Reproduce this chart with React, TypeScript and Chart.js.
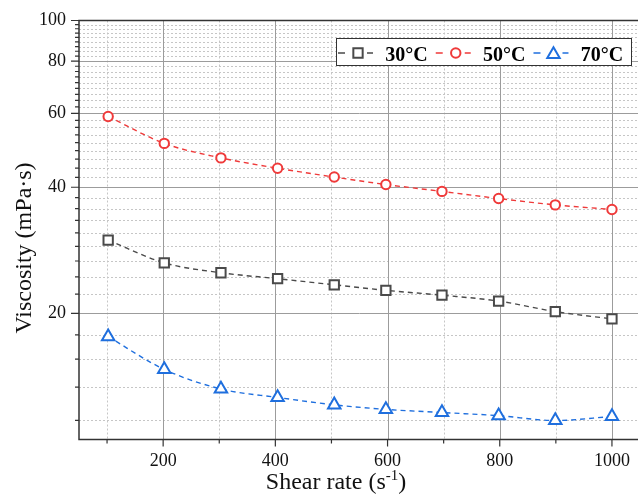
import React, { useEffect, useRef } from "react";
import { Chart, registerables } from "chart.js";

Chart.register(...registerables);

// ---- data ----
const shearRate = [102, 202, 303, 404, 505, 597, 697, 798, 899, 1000];
const visc30 = [29.9, 26.4, 25.0, 24.2, 23.4, 22.7, 22.1, 21.4, 20.2, 19.4];
const visc50 = [59.0, 50.9, 47.0, 44.4, 42.3, 40.6, 39.1, 37.6, 36.3, 35.4];
const visc70 = [17.6, 14.7, 13.2, 12.6, 12.1, 11.8, 11.6, 11.4, 11.1, 11.35];
const seriesLabels = ["30°C", "50°C", "70°C"];

const xMajorTicks = [200, 400, 600, 800, 1000];
const xMinorTicks = [100, 300, 500, 700, 900];
const yMajorTicks = [20, 40, 60, 80, 100];
const yMinorBases = [10, 20, 40, 60, 80];

const yTitle = "Viscosity (mPa·s)";
const xTitleMain = "Shear rate (s";
const xTitleSup = "-1";
const xTitleEnd = ")";

const COLORS = ["#4a4a4a", "#ef3a3a", "#1f6fde"];
const STYLES = ["rect", "circle", "triangle"];
const RADII = [6.6, 4.7, 7.2];
const SERIF = '"Liberation Serif", "Times New Roman", serif';

function yMinorTicks(): number[] {
  const out: number[] = [];
  const step = 20 / 9;
  for (const b of yMinorBases) {
    for (let k = 1; k <= 8; k++) {
      const v = b === 10 ? 20 - k * step : b + k * step;
      if (v > 10 && v < 100) out.push(v);
    }
  }
  return out;
}

function drawMarker(ctx: CanvasRenderingContext2D, style: string, x: number, y: number, r: number, color: string) {
  ctx.save();
  ctx.setLineDash([]);
  ctx.lineWidth = 2;
  ctx.strokeStyle = color;
  ctx.fillStyle = "#ffffff";
  ctx.beginPath();
  if (style === "rect") {
    const s = Math.SQRT1_2 * r;
    ctx.rect(x - s, y - s, 2 * s, 2 * s);
  } else if (style === "circle") {
    ctx.arc(x, y, r, 0, Math.PI * 2);
  } else {
    const a = (2 * Math.PI) / 3;
    ctx.moveTo(x, y - r);
    ctx.lineTo(x + Math.sin(a) * r, y - Math.cos(a) * r);
    ctx.lineTo(x + Math.sin(2 * a) * r, y - Math.cos(2 * a) * r);
    ctx.closePath();
  }
  ctx.fill();
  ctx.stroke();
  ctx.restore();
}

const framePlugin = {
  id: "originFrame",
  beforeDatasetsDraw(chart: any) {
    const { ctx, chartArea: a, scales } = chart;
    const xs = scales.x;
    const ys = scales.y;
    ctx.save();
    // minor dotted grid
    ctx.lineWidth = 1;
    ctx.strokeStyle = "#c6c6c6";
    ctx.setLineDash([2, 2]);
    ctx.beginPath();
    for (const v of yMinorTicks()) {
      const p = Math.round(ys.getPixelForValue(v)) + 0.5;
      ctx.moveTo(a.left, p);
      ctx.lineTo(a.right, p);
    }
    for (const v of xMinorTicks) {
      const p = Math.round(xs.getPixelForValue(v)) + 0.5;
      ctx.moveTo(p, a.top);
      ctx.lineTo(p, a.bottom);
    }
    ctx.stroke();
    // major solid grid
    ctx.setLineDash([]);
    ctx.strokeStyle = "#9c9c9c";
    ctx.beginPath();
    for (const v of yMajorTicks) {
      if (v >= 100) continue;
      const p = Math.round(ys.getPixelForValue(v)) + 0.5;
      ctx.moveTo(a.left, p);
      ctx.lineTo(a.right, p);
    }
    for (const v of xMajorTicks) {
      const p = Math.round(xs.getPixelForValue(v)) + 0.5;
      ctx.moveTo(p, a.top);
      ctx.lineTo(p, a.bottom);
    }
    ctx.stroke();
    ctx.restore();
  },
  afterDatasetsDraw(chart: any) {
    const { ctx, chartArea: a, scales } = chart;
    const xs = scales.x;
    const ys = scales.y;
    ctx.save();
    ctx.setLineDash([]);
    ctx.strokeStyle = "#333333";
    ctx.lineWidth = 1.5;
    ctx.strokeRect(a.left, a.top, a.right - a.left, a.bottom - a.top);
    // tick marks
    ctx.lineWidth = 1.2;
    ctx.beginPath();
    for (const v of yMajorTicks) {
      const p = ys.getPixelForValue(v);
      ctx.moveTo(a.left, p);
      ctx.lineTo(a.left - 8, p);
    }
    for (const v of yMinorTicks()) {
      const p = ys.getPixelForValue(v);
      ctx.moveTo(a.left, p);
      ctx.lineTo(a.left - 4, p);
    }
    for (const v of xMajorTicks) {
      const p = xs.getPixelForValue(v);
      ctx.moveTo(p, a.bottom);
      ctx.lineTo(p, a.bottom + 7);
    }
    for (const v of xMinorTicks) {
      const p = xs.getPixelForValue(v);
      ctx.moveTo(p, a.bottom);
      ctx.lineTo(p, a.bottom + 4);
    }
    ctx.stroke();

    // axis titles
    ctx.fillStyle = "#111111";
    ctx.font = `24px ${SERIF}`;
    ctx.textBaseline = "alphabetic";
    ctx.save();
    ctx.translate(30.5, 248);
    ctx.rotate(-Math.PI / 2);
    ctx.textAlign = "center";
    ctx.fillText(yTitle, 0, 0);
    ctx.restore();

    ctx.textAlign = "left";
    const wMain = ctx.measureText(xTitleMain).width;
    ctx.font = `15px ${SERIF}`;
    const wSup = ctx.measureText(xTitleSup).width;
    ctx.font = `24px ${SERIF}`;
    const wEnd = ctx.measureText(xTitleEnd).width;
    const total = wMain + wSup + wEnd;
    let tx = 336 - total / 2;
    const ty = 489;
    ctx.fillText(xTitleMain, tx, ty);
    tx += wMain;
    ctx.font = `15px ${SERIF}`;
    ctx.fillText(xTitleSup, tx, ty - 9);
    tx += wSup;
    ctx.font = `24px ${SERIF}`;
    ctx.fillText(xTitleEnd, tx, ty);

    // legend
    const box = { l: 336.5, t: 38.5, r: 631.5, b: 65.5 };
    ctx.fillStyle = "#ffffff";
    ctx.fillRect(box.l, box.t, box.r - box.l, box.b - box.t);
    ctx.strokeStyle = "#333333";
    ctx.lineWidth = 1;
    ctx.strokeRect(box.l, box.t, box.r - box.l, box.b - box.t);
    ctx.font = `bold 20px ${SERIF}`;
    let cx = box.l + 21.5;
    const cy = 53;
    chart.data.datasets.forEach((ds: any) => {
      ctx.strokeStyle = ds.borderColor;
      ctx.lineWidth = 1.4;
      ctx.beginPath();
      ctx.moveTo(cx - 20, cy);
      ctx.lineTo(cx - 13, cy);
      ctx.moveTo(cx + 9, cy);
      ctx.lineTo(cx + 15, cy);
      ctx.stroke();
      drawMarker(ctx, ds.pointStyle, cx, cy + (ds.pointStyle === "triangle" ? 1.5 : 0), ds.pointRadius, ds.borderColor);
      ctx.fillStyle = "#000000";
      ctx.textAlign = "left";
      const textX = cx + 27.3;
      ctx.fillText(ds.label, textX, 60.5);
      cx = textX + ctx.measureText(ds.label).width + 28;
    });
    ctx.restore();
  },
};

export default function App() {
  const canvasRef = useRef<HTMLCanvasElement | null>(null);

  useEffect(() => {
    const canvas = canvasRef.current;
    if (!canvas) return;
    const series = [visc30, visc50, visc70];
    const chart = new Chart(canvas, {
      type: "line",
      data: {
        datasets: series.map((vals, i) => ({
          label: seriesLabels[i],
          data: shearRate.map((x, j) => ({ x, y: vals[j] })),
          borderColor: COLORS[i],
          backgroundColor: "#ffffff",
          borderWidth: 1.4,
          borderDash: [5, 4],
          tension: 0.4,
          cubicInterpolationMode: "monotone",
          pointStyle: STYLES[i],
          pointRadius: RADII[i],
          pointBorderWidth: 2,
          pointBackgroundColor: "#ffffff",
          pointBorderColor: COLORS[i],
        })),
      } as any,
      options: {
        animation: false,
        responsive: false,
        devicePixelRatio: 1,
        layout: { autoPadding: false, padding: { top: 20.5, right: 0, left: 0, bottom: 0 } },
        plugins: { legend: { display: false }, tooltip: { enabled: false } },
        scales: {
          x: {
            type: "linear",
            min: 50,
            max: 1050,
            grid: { display: false, drawTicks: false },
            border: { display: false },
            ticks: {
              font: { family: SERIF, size: 18 },
              color: "#111111",
              padding: 11,
              autoSkip: false,
              maxRotation: 0,
              callback: (v: any) => String(v),
            },
            afterBuildTicks: (s: any) => {
              s.ticks = xMajorTicks.map((v) => ({ value: v }));
            },
            afterFit: (s: any) => {
              s.height = 54.5;
              s.paddingLeft = 0;
              s.paddingRight = 0;
            },
          },
          y: {
            type: "logarithmic",
            min: 10,
            max: 100,
            grid: { display: false, drawTicks: false },
            border: { display: false },
            ticks: {
              font: { family: SERIF, size: 18 },
              color: "#111111",
              padding: 13,
              autoSkip: false,
              callback: (v: any) => String(v),
            },
            afterBuildTicks: (s: any) => {
              s.ticks = yMajorTicks.map((v) => ({ value: v }));
            },
            afterFit: (s: any) => {
              s.width = 79;
              s.paddingTop = 0;
              s.paddingBottom = 0;
            },
          },
        },
      } as any,
      plugins: [framePlugin],
    });
    return () => chart.destroy();
  }, []);

  return (
    <div style={{ position: "fixed", left: 0, top: 0, width: 638, height: 494, overflow: "hidden", background: "#ffffff" }}>
      <canvas ref={canvasRef} width={640} height={494} style={{ display: "block" }} />
    </div>
  );
}
